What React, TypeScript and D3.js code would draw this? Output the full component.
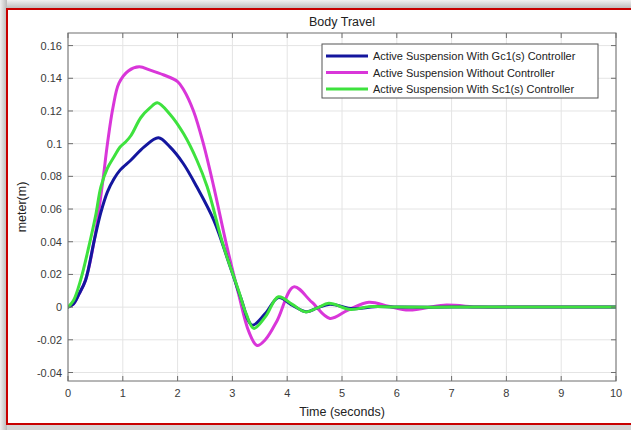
import React from "react";
import * as d3 from "d3";

const xTicks = [0, 1, 2, 3, 4, 5, 6, 7, 8, 9, 10];
const yTicks = [-0.04, -0.02, 0, 0.02, 0.04, 0.06, 0.08, 0.1, 0.12, 0.14, 0.16];

const gcTime = [0, 0.1, 0.2, 0.32, 0.48, 0.6, 0.72, 0.84, 0.95, 1.15, 1.39, 1.65, 1.86, 2.1, 2.35, 2.66, 2.96, 3.15, 3.36, 3.6, 3.84, 4.1, 4.35, 4.55, 4.78, 5.2, 5.6, 6, 7, 8, 9, 10];
const gcValue = [0, 0.002, 0.008, 0.0165, 0.041, 0.058, 0.0705, 0.0785, 0.0838, 0.09, 0.098, 0.1036, 0.098, 0.088, 0.0736, 0.0532, 0.0247, 0.006, -0.011, -0.004, 0.0058, 0.001, -0.0029, -0.0005, 0.0018, -0.001, 0.0003, 0, 0, 0, 0, 0];

const noCtrlTime = [0, 0.1, 0.2, 0.32, 0.48, 0.63, 0.72, 0.82, 0.93, 1.1, 1.3, 1.5, 1.75, 2.0, 2.11, 2.29, 2.47, 2.66, 2.9, 3.11, 3.3, 3.45, 3.6, 3.82, 4.12, 4.45, 4.78, 5.1, 5.49, 5.85, 6.22, 6.86, 7.5, 8, 9, 10];
const noCtrlValue = [0, 0.002, 0.008, 0.0165, 0.041, 0.0757, 0.1, 0.122, 0.137, 0.1445, 0.147, 0.145, 0.142, 0.138, 0.133, 0.12, 0.1, 0.0736, 0.037, 0.0084, -0.015, -0.0235, -0.02, -0.008, 0.0124, 0.003, -0.0069, -0.002, 0.003, 0.0005, -0.0018, 0.0012, 0, 0, 0, 0];

const scTime = [0, 0.1, 0.23, 0.38, 0.51, 0.6, 0.72, 0.84, 0.95, 1.05, 1.15, 1.33, 1.5, 1.63, 1.86, 2.11, 2.35, 2.54, 2.84, 3.11, 3.25, 3.39, 3.6, 3.84, 4.1, 4.33, 4.55, 4.76, 5.16, 5.5, 6, 7, 8, 9, 10];
const scValue = [0, 0.004, 0.0165, 0.037, 0.057, 0.0736, 0.085, 0.092, 0.098, 0.101, 0.105, 0.116, 0.122, 0.125, 0.118, 0.106, 0.09, 0.0736, 0.037, 0.0104, -0.004, -0.013, -0.006, 0.0063, 0.0015, -0.0029, -0.0005, 0.0023, -0.0015, 0.0003, 0, 0, 0, 0, 0];

const seriesNames = [
  "Active Suspension With Gc1(s) Controller",
  "Active Suspension Without Controller",
  "Active Suspension With Sc1(s) Controller",
];
const seriesColors = ["#14169e", "#d936d9", "#3ee23e"];

const W = 631;
const H = 430;
const left = 68;
const right = 616;
const top = 33;
const bottom = 381;
const FONT = "'Liberation Sans', Arial, sans-serif";

export default function App() {
  const x = d3.scaleLinear().domain([0, 10]).range([left, right]);
  const y = d3.scaleLinear().domain([-0.0452, 0.1677]).range([bottom, top]);

  const series = [
    { t: gcTime, v: gcValue },
    { t: noCtrlTime, v: noCtrlValue },
    { t: scTime, v: scValue },
  ];
  const line = d3
    .line<[number, number]>()
    .x((d) => x(d[0]))
    .y((d) => y(d[1]))
    .curve(d3.curveCatmullRom.alpha(0.5));

  const drawOrder = [1, 0, 2];
  const legX = 322;
  const legY = 44;
  const legW = 276;
  const legH = 54;

  return (
    <svg
      width={W}
      height={H}
      style={{ position: "absolute", left: 0, top: 0 }}
      fontFamily={FONT}
    >
      <defs>
        <linearGradient id="shTop" x1="0" y1="0" x2="0" y2="1">
          <stop offset="0" stopColor="#f2f2f2" />
          <stop offset="1" stopColor="#b9b9b9" />
        </linearGradient>
        <linearGradient id="shLeft" x1="0" y1="0" x2="1" y2="0">
          <stop offset="0" stopColor="#f0f0f0" />
          <stop offset="1" stopColor="#b9b9b9" />
        </linearGradient>
        <clipPath id="plotClip">
          <rect x={left} y={top} width={right - left} height={bottom - top} />
        </clipPath>
      </defs>
      <rect x={0} y={0} width={W} height={H} fill="#d4d4d4" />
      <rect x={0} y={0} width={W} height={9} fill="url(#shTop)" />
      <rect x={0} y={0} width={7} height={H} fill="url(#shLeft)" />
      <rect x={7} y={9} width={W} height={415} fill="#ffffff" stroke="#c80000" strokeWidth={2} />

      {/* grid */}
      {xTicks.map((t) => (
        <line key={"gx" + t} x1={x(t)} x2={x(t)} y1={top} y2={bottom} stroke="#e4e4e4" strokeWidth={1} />
      ))}
      {yTicks.map((t) => (
        <line key={"gy" + t} x1={left} x2={right} y1={y(t)} y2={y(t)} stroke="#e4e4e4" strokeWidth={1} />
      ))}

      {/* lines */}
      <g clipPath="url(#plotClip)">
        {drawOrder.map((i) => (
          <path
            key={i}
            d={line(series[i].t.map((t, k) => [t, series[i].v[k]] as [number, number])) || ""}
            fill="none"
            stroke={seriesColors[i]}
            strokeWidth={3}
            strokeLinejoin="round"
            strokeLinecap="round"
          />
        ))}
      </g>

      {/* axes box */}
      <rect x={left} y={top} width={right - left} height={bottom - top} fill="none" stroke="#6e6e6e" strokeWidth={1} />
      {xTicks.map((t) => (
        <g key={"tx" + t}>
          <line x1={x(t)} x2={x(t)} y1={bottom} y2={bottom - 5} stroke="#6e6e6e" />
          <line x1={x(t)} x2={x(t)} y1={top} y2={top + 5} stroke="#6e6e6e" />
          <text x={x(t)} y={bottom + 16} textAnchor="middle" fontSize={11} fill="#3a3a3a">
            {String(t)}
          </text>
        </g>
      ))}
      {yTicks.map((t) => (
        <g key={"ty" + t}>
          <line x1={left} x2={left + 5} y1={y(t)} y2={y(t)} stroke="#6e6e6e" />
          <line x1={right} x2={right - 5} y1={y(t)} y2={y(t)} stroke="#6e6e6e" />
          <text x={left - 6} y={y(t) + 4} textAnchor="end" fontSize={11} fill="#3a3a3a">
            {String(+t.toFixed(2))}
          </text>
        </g>
      ))}

      <text x={(left + right) / 2} y={26} textAnchor="middle" fontSize={12.5} fill="#222">
        Body Travel
      </text>
      <text x={(left + right) / 2} y={416} textAnchor="middle" fontSize={12.5} fill="#222">
        Time (seconds)
      </text>
      <text
        transform={`translate(26, ${(top + bottom) / 2}) rotate(-90)`}
        textAnchor="middle"
        fontSize={12.5}
        fill="#222"
      >
        meter(m)
      </text>

      {/* legend */}
      <rect x={legX} y={legY} width={legW} height={legH} fill="#ffffff" stroke="#555" strokeWidth={1} />
      {seriesNames.map((name, i) => (
        <g key={name}>
          <line
            x1={legX + 4}
            x2={legX + 46}
            y1={legY + 12 + i * 16.5}
            y2={legY + 12 + i * 16.5}
            stroke={seriesColors[i]}
            strokeWidth={3}
          />
          <text x={legX + 51} y={legY + 16 + i * 16.5} fontSize={11} fill="#222">
            {name}
          </text>
        </g>
      ))}
    </svg>
  );
}
